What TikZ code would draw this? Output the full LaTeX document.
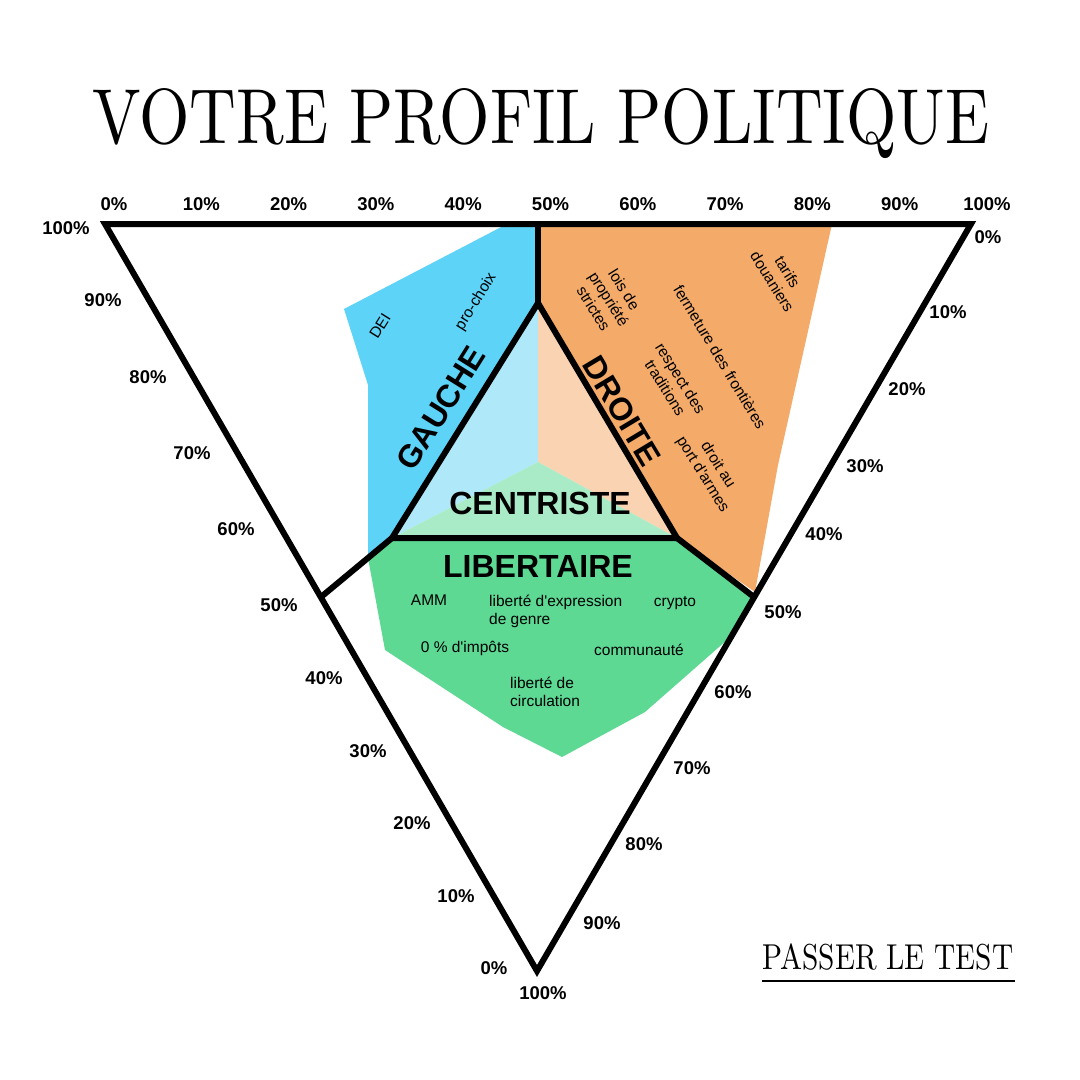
\documentclass[tikz,border=0pt]{standalone}
\usepackage{fontspec}
\newfontfamily\sansf[Ligatures=TeXOff]{Liberation Sans}
\newfontfamily\titlef{lmroman10-regular}[Extension=.otf]
\definecolor{cblue}{HTML}{5DD3F8}
\definecolor{corange}{HTML}{F4AA68}
\definecolor{cgreen}{HTML}{5DD994}
\definecolor{lblue}{HTML}{AEE8F9}
\definecolor{lorange}{HTML}{FAD3B2}
\definecolor{lgreen}{HTML}{A9EBC7}
\begin{document}
\begin{tikzpicture}[x=1pt,y=-1pt,
  frame/.style={line width=6pt, line join=miter},
  pct/.style={font=\sansf\bfseries\fontsize{18.5}{20}\selectfont, inner sep=0},
  zone/.style={font=\sansf\bfseries\fontsize{32}{34}\selectfont, inner sep=0},
  item/.style={font=\sansf\fontsize{15.5}{18}\selectfont, inner sep=0, align=center},
]
\useasboundingbox[fill=white] (0,0) rectangle (1080,1080);
% key points
\coordinate (TL) at (105,224);
\coordinate (TR) at (971,224);
\coordinate (B)  at (537,971);
\coordinate (TM) at (538,224);
\coordinate (IA) at (538,303);
\coordinate (IL) at (392,538);
\coordinate (IR) at (677,538);
\coordinate (ML) at (321,597);
\coordinate (MR) at (754,597);
\coordinate (C)  at (538,462);
% zones
\fill[cblue] (507,224) -- (TM) -- (IA) -- (IL) -- (368,558) -- (368,385) -- (344,309) -- cycle;
\fill[corange] (TM) -- (832,224) -- (778,465) -- (755,592) -- (IR) -- (IA) -- cycle;
\fill[cgreen] (IL) -- (IR) -- (MR) -- (727,640) -- (645,712) -- (562,757) -- (503,727) -- (385,650) -- (368,558) -- cycle;
\fill[lblue] (IA) -- (C) -- (IL) -- cycle;
\fill[lorange] (IA) -- (IR) -- (C) -- cycle;
\fill[lgreen] (IL) -- (C) -- (IR) -- cycle;
% frame
\draw[frame] (TL) -- (TR) -- (B) -- cycle;
\draw[frame] (TM) -- (IA);
\draw[frame] (IA) -- (IL) -- (IR) -- cycle;
\draw[frame] (IL) -- (ML);
\draw[frame] (IR) -- (MR);
% title
\node[inner sep=0, anchor=base] (title) at (541,143)
  {\scalebox{0.83}[1]{\titlef\fontsize{78}{80}\selectfont VOTRE PROFIL POLITIQUE}};
\node[inner sep=0, anchor=base] (test) at (888,969)
  {\scalebox{0.816}[1]{\titlef\fontsize{36}{38}\selectfont PASSER LE TEST}};
\coordinate (u1) at (762,981);
\coordinate (u2) at (1015,981);
\draw[line width=1.5pt] (u1) -- (u2);
% top scale
\foreach \p [count=\i from 0] in {0,10,...,100}
  \node[pct] (top\p) at ({114+87.3*\i},204) {\p\%};
% left scale
\node[pct] (l100) at (66,228) {100\%};
\foreach \p/\x/\y in {90/103/300, 80/148/377, 70/192/453, 60/236/529, 50/279/605,
                      40/324/678, 30/368/751, 20/412/823, 10/456/896, 0/494/968}
  \node[pct] (l\p) at (\x,\y) {\p\%};
\node[pct] (b100) at (543,993) {100\%};
% right scale
\node[pct] (r0) at (988,237) {0\%};
\node[pct] (r10) at (948,312) {10\%};
\node[pct] (r20) at (907,389) {20\%};
\node[pct] (r30) at (865,466) {30\%};
\node[pct] (r40) at (824,534) {40\%};
\node[pct] (r50) at (783,612) {50\%};
\node[pct] (r60) at (733,692) {60\%};
\node[pct] (r70) at (692,768) {70\%};
\node[pct] (r80) at (644,844) {80\%};
\node[pct] (r90) at (602,923) {90\%};
% zone names
\node[zone, rotate=58] (gauche) at (441,408) {GAUCHE};
\node[zone, rotate=-59] (droite) at (622,411) {DROITE};
\node[zone] (centre) at (540,503) {CENTRISTE};
\node[zone] (lib) at (538,566) {LIBERTAIRE};
% items
\node[item, rotate=58] (dei) at (380,326) {DEI};
\node[item, rotate=58] (pro) at (476,302) {pro-choix};
\node[item, rotate=-58] (lois) at (609,299) {lois de\\propriété\\strictes};
\node[item, rotate=-59] (ferm) at (720,357) {fermeture des frontières};
\node[item, rotate=-58] (tarifs) at (780,277) {tarifs\\douaniers};
\node[item, rotate=-58] (resp) at (673,383) {respect des\\traditions};
\node[item, rotate=-58] (droit) at (710,470) {droit au\\port d'armes};
\node[item] (amm) at (429,600) {AMM};
\node[item, align=left, anchor=west] (expr) at (489,611) {liberté d'expression\\de genre};
\node[item] (crypto) at (675,603) {crypto};
\node[item] (impots) at (465,648) {0 \% d'impôts};
\node[item] (comm) at (639,650) {communauté};
\node[item, align=left, anchor=west] (circ) at (510,692) {liberté de\\circulation};
\end{tikzpicture}
\end{document}
